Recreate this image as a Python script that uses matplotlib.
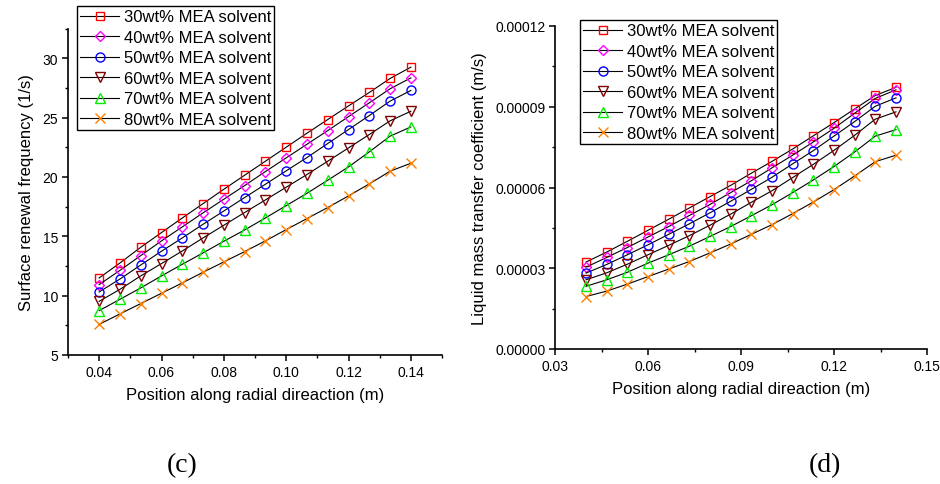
import matplotlib
matplotlib.use("Agg")
import matplotlib.pyplot as plt
from matplotlib.ticker import MultipleLocator, FormatStrFormatter

plt.rcParams['font.family'] = ['Liberation Sans', 'DejaVu Sans']

# ---------------- data ----------------
position = [0.04, 0.04667, 0.05333, 0.06, 0.06667, 0.07333, 0.08, 0.08667,
            0.09333, 0.10, 0.10667, 0.11333, 0.12, 0.12667, 0.13333, 0.14]

labels = ["30wt% MEA solvent", "40wt% MEA solvent", "50wt% MEA solvent",
          "60wt% MEA solvent", "70wt% MEA solvent", "80wt% MEA solvent"]

# (c) surface renewal frequency (1/s)
freq_30 = [11.49, 12.75, 14.07, 15.31, 16.54, 17.75, 18.96, 20.14,
           21.32, 22.50, 23.68, 24.83, 25.98, 27.11, 28.29, 29.24]
freq_40 = [10.93, 12.13, 13.37, 14.61, 15.79, 16.97, 18.12, 19.27,
           20.45, 21.60, 22.75, 23.90, 25.08, 26.24, 27.42, 28.34]
freq_50 = [10.31, 11.40, 12.58, 13.74, 14.86, 16.01, 17.13, 18.26,
           19.38, 20.51, 21.63, 22.81, 23.99, 25.17, 26.38, 27.28]
freq_60 = [9.52, 10.53, 11.66, 12.70, 13.76, 14.86, 15.93, 17.00,
           18.06, 19.13, 20.20, 21.32, 22.44, 23.57, 24.72, 25.53]
freq_70 = [8.74, 9.69, 10.65, 11.66, 12.64, 13.60, 14.58, 15.53,
           16.54, 17.58, 18.62, 19.72, 20.84, 22.11, 23.43, 24.21]
freq_80 = [7.58, 8.46, 9.33, 10.20, 11.07, 11.97, 12.84, 13.71,
           14.61, 15.56, 16.49, 17.42, 18.40, 19.41, 20.48, 21.15]

# (d) liquid mass transfer coefficient (m/s)
kl_30 = [3.23e-5, 3.60e-5, 4.00e-5, 4.41e-5, 4.82e-5, 5.24e-5, 5.66e-5, 6.08e-5,
         6.53e-5, 6.97e-5, 7.43e-5, 7.92e-5, 8.41e-5, 8.92e-5, 9.42e-5, 9.72e-5]
kl_40 = [3.04e-5, 3.40e-5, 3.77e-5, 4.16e-5, 4.55e-5, 4.96e-5, 5.37e-5, 5.81e-5,
         6.25e-5, 6.73e-5, 7.20e-5, 7.69e-5, 8.20e-5, 8.76e-5, 9.31e-5, 9.63e-5]
kl_50 = [2.82e-5, 3.14e-5, 3.50e-5, 3.87e-5, 4.26e-5, 4.65e-5, 5.06e-5, 5.49e-5,
         5.93e-5, 6.38e-5, 6.88e-5, 7.37e-5, 7.91e-5, 8.45e-5, 9.02e-5, 9.33e-5]
kl_60 = [2.57e-5, 2.83e-5, 3.15e-5, 3.50e-5, 3.85e-5, 4.21e-5, 4.60e-5, 5.01e-5,
         5.45e-5, 5.88e-5, 6.37e-5, 6.86e-5, 7.38e-5, 7.94e-5, 8.54e-5, 8.81e-5]
kl_70 = [2.33e-5, 2.57e-5, 2.85e-5, 3.19e-5, 3.50e-5, 3.82e-5, 4.18e-5, 4.55e-5,
         4.95e-5, 5.36e-5, 5.81e-5, 6.28e-5, 6.78e-5, 7.32e-5, 7.91e-5, 8.15e-5]
kl_80 = [1.95e-5, 2.15e-5, 2.41e-5, 2.69e-5, 2.97e-5, 3.25e-5, 3.57e-5, 3.90e-5,
         4.26e-5, 4.62e-5, 5.03e-5, 5.46e-5, 5.92e-5, 6.43e-5, 6.96e-5, 7.20e-5]

freq_series = [freq_30, freq_40, freq_50, freq_60, freq_70, freq_80]
kl_series = [kl_30, kl_40, kl_50, kl_60, kl_70, kl_80]

# ---------------- styles ----------------
colors = ["#ff0000", "#ff00ff", "#0000ff", "#800000", "#00ee00", "#ff8000"]
markers = ["s", "D", "o", "v", "^", "x"]
msizes = [6, 5.5, 6.5, 7, 7, 7]

fig = plt.figure(figsize=(9.4, 4.85), dpi=100)
ax1 = fig.add_axes([68/940, 1-356/485, (442-68)/940, (356-29.5)/485])
ax2 = fig.add_axes([555/940, 1-350/485, (927-555)/940, (350-27)/485])

def style(ax):
    for s in ["top", "right"]:
        ax.spines[s].set_visible(False)
    for s in ["left", "bottom"]:
        ax.spines[s].set_linewidth(1.2)
    ax.tick_params(which="major", direction="out", length=4, width=1.1, labelsize=10, pad=3)
    ax.tick_params(which="minor", direction="out", length=2.5, width=1.0)

def draw(ax, series):
    for y, c, m, ms, lab in zip(series, colors, markers, msizes, labels):
        ax.plot(position, y, color="black", linewidth=0.8, marker=m,
                markersize=ms, markerfacecolor="none", markeredgecolor=c,
                markeredgewidth=1.0, label=lab)

draw(ax1, freq_series)
draw(ax2, kl_series)
style(ax1)
style(ax2)

ax1.set_xlim(0.03, 0.15)
ax1.set_ylim(5, 32.5)
ax1.xaxis.set_major_locator(MultipleLocator(0.02))
ax1.xaxis.set_minor_locator(MultipleLocator(0.01))
ax1.yaxis.set_major_locator(MultipleLocator(5))
ax1.yaxis.set_minor_locator(MultipleLocator(2.5))
ax1.xaxis.set_major_formatter(FormatStrFormatter("%.2f"))
ax1.set_xticks([0.04, 0.06, 0.08, 0.10, 0.12, 0.14])
ax1.set_xlabel("Position along radial direaction (m)", fontsize=12, labelpad=6)
ax1.set_ylabel("Surface renewal frequency (1/s)", fontsize=12, labelpad=6)

ax2.set_xlim(0.03, 0.15)
ax2.set_ylim(0, 0.00012)
ax2.xaxis.set_major_locator(MultipleLocator(0.03))
ax2.xaxis.set_minor_locator(MultipleLocator(0.015))
ax2.yaxis.set_major_locator(MultipleLocator(0.00003))
ax2.yaxis.set_minor_locator(MultipleLocator(0.000015))
ax2.xaxis.set_major_formatter(FormatStrFormatter("%.2f"))
ax2.yaxis.set_major_formatter(FormatStrFormatter("%.5f"))
ax2.set_xlabel("Position along radial direaction (m)", fontsize=12, labelpad=6)
ax2.set_ylabel("Liquid mass transfer coefficient (m/s)", fontsize=12, labelpad=6)

for ax, anchor in [(ax1, (77/940, 1-7/485)), (ax2, (580/940, 1-21/485))]:
    leg = ax.legend(loc="upper left", bbox_to_anchor=anchor,
                    bbox_transform=fig.transFigure, fontsize=12,
                    frameon=True, fancybox=False, framealpha=1,
                    edgecolor="black", borderpad=0.2, labelspacing=0.33,
                    handlelength=2.3, handletextpad=0.3, borderaxespad=0)
    leg.get_frame().set_linewidth(1.0)

fig.text(182/940, 1-466/485, "(c)", fontsize=20, family="Liberation Serif",
         ha="center", va="center")
fig.text(825/940, 1-466/485, "(d)", fontsize=20, family="Liberation Serif",
         ha="center", va="center")

fig.savefig("out.png", dpi=100)
